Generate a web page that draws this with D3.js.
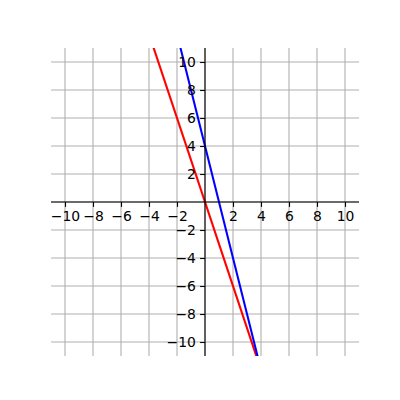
<!DOCTYPE html>
<html><head><meta charset="utf-8">
<script src="https://cdn.jsdelivr.net/npm/d3@7"></script>
<style>body{margin:0;background:#fff}</style>
</head><body><svg id="c" width="400" height="400"></svg>
<script>
const xDomain = [-11, 11];
const yDomain = [-11, 11];
const tickValues = [-10, -8, -6, -4, -2, 2, 4, 6, 8, 10];
const gridValues = [-10, -8, -6, -4, -2, 0, 2, 4, 6, 8, 10];
const redLine = {slope: -3, intercept: 0, color: "#ff0000"};
const blueLine = {slope: -4, intercept: 4, color: "#0000ff"};
const lines = [redLine, blueLine];

const svg = d3.select("#c");
const x = d3.scaleLinear().domain(xDomain).range([51, 359]);
const y = d3.scaleLinear().domain(yDomain).range([356, 48]);

svg.append("defs").append("clipPath").attr("id","clip")
  .append("rect").attr("x",51).attr("y",48).attr("width",308).attr("height",308);

// grid
const g = svg.append("g");
g.selectAll(".gx").data(gridValues).join("line")
  .attr("x1", d=>x(d)).attr("x2", d=>x(d)).attr("y1", y(11)).attr("y2", y(-11))
  .attr("stroke", "#b0b0b0").attr("stroke-width", 1.1);
g.selectAll(".gy").data(gridValues).join("line")
  .attr("y1", d=>y(d)).attr("y2", d=>y(d)).attr("x1", x(-11)).attr("x2", x(11))
  .attr("stroke", "#b0b0b0").attr("stroke-width", 1.1);

// lines
const lg = svg.append("g").attr("clip-path","url(#clip)");
lines.forEach(L => {
  const pts = [-12, 12].map(xv => [xv, L.slope*xv + L.intercept]);
  lg.append("path").datum(pts)
    .attr("d", d3.line().x(d=>x(d[0])).y(d=>y(d[1])))
    .attr("fill","none").attr("stroke", L.color).attr("stroke-width", 2.1);
});

const fmt = d => (d < 0 ? "\u2212" + Math.abs(d) : String(d));
// x axis
const xa = svg.append("g").attr("transform", `translate(0,${y(0)})`)
  .call(d3.axisBottom(x).tickValues(tickValues).tickSize(4.9).tickPadding(4.2).tickFormat(fmt));
xa.select(".domain").attr("d", `M${x(-11)},0H${x(11)}`).attr("stroke","#000").attr("stroke-width",1.1);
// y axis
const ya = svg.append("g").attr("transform", `translate(${x(0)},0)`)
  .call(d3.axisLeft(y).tickValues(tickValues).tickSize(4.9).tickPadding(4.2).tickFormat(fmt));
ya.select(".domain").attr("d", `M0,${y(11)}V${y(-11)}`).attr("stroke","#000").attr("stroke-width",1.1);
svg.selectAll(".tick text").attr("font-family","DejaVu Sans").attr("font-size","13.9px").attr("fill","#000");
svg.selectAll(".tick line").attr("stroke","#000").attr("stroke-width",1.1);
</script></body></html>
